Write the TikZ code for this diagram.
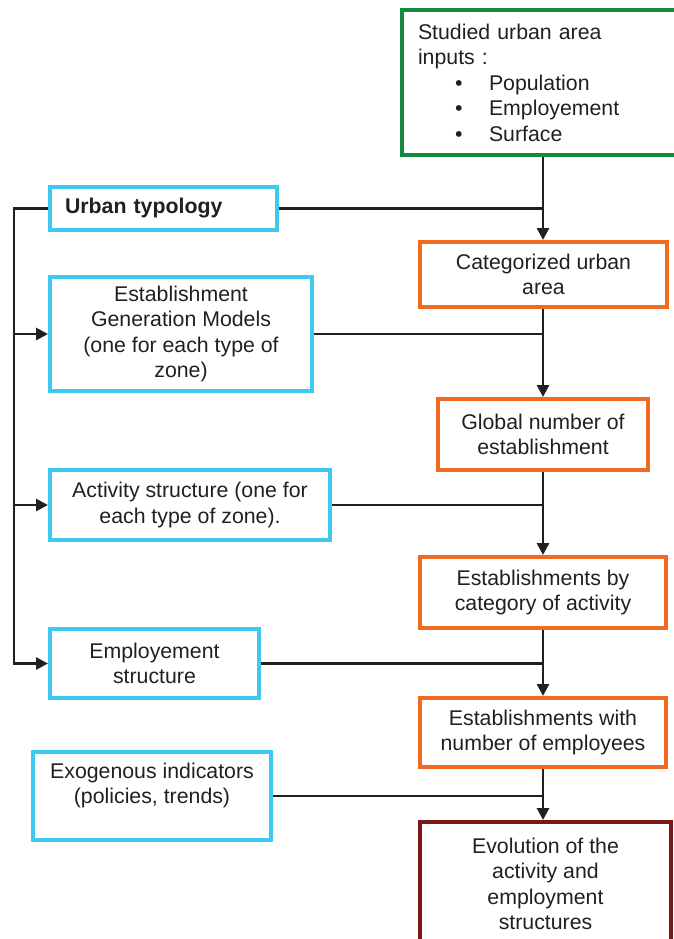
\documentclass[tikz,border=0pt]{standalone}
\usepackage{fontspec}
\setmainfont{Liberation Sans}
\usetikzlibrary{arrows.meta}
\definecolor{cgreen}{HTML}{138A3E}
\definecolor{ccyan}{HTML}{3EC9F2}
\definecolor{corange}{HTML}{F26A21}
\definecolor{cdred}{HTML}{7D1618}
\definecolor{cink}{HTML}{231F20}
\begin{document}
\begin{tikzpicture}[x=1pt,y=-1pt,
  font=\fontsize{21.3}{25.5}\selectfont, text=cink,
  box/.style={draw, line width=4pt, rectangle, inner sep=0pt, align=center},
  bbox/.style={box, draw=ccyan},
  obox/.style={box, draw=corange},
  arr/.style={draw=cink, line width=2.8pt, -{Triangle[length=12pt,width=12pt]}},
  ln/.style={draw=cink, line width=2.8pt}]
\useasboundingbox (0,0) rectangle (673,939);

% inputs
\node[box, draw=cgreen, minimum width=280pt, minimum height=145pt, text width=248pt, align=left] (inp) at (542,82.5)
  {Studied urban area\\inputs :\\
   \hspace*{37pt}\makebox[34pt][l]{•}Population\\
   \hspace*{37pt}\makebox[34pt][l]{•}Employement\\
   \hspace*{37pt}\makebox[34pt][l]{•}Surface};

% left column
\node[bbox, minimum width=227pt, minimum height=43pt, text width=197pt, align=left, font=\fontsize{21.3}{25.5}\selectfont\bfseries] (ut) at (163.5,208.5) {Urban typology};
\node[bbox, minimum width=262pt, minimum height=114pt] (egm) at (181,334)
  {Establishment\\Generation Models\\(one for each type of\\zone)};
\node[bbox, minimum width=280pt, minimum height=70pt] (act) at (190,505)
  {Activity structure (one for\\each type of zone).};
\node[bbox, minimum width=209pt, minimum height=69pt] (emp) at (154.5,663.5)
  {Employement\\structure};
\node[bbox, minimum width=238pt, minimum height=88pt] (exo) at (152,796)
  {Exogenous indicators\\(policies, trends)\\\mbox{}};

% right column
\node[obox, minimum width=247pt, minimum height=65pt] (cat) at (543.5,274.5)
  {Categorized urban\\area};
\node[obox, minimum width=210pt, minimum height=71pt] (glob) at (543,434.5)
  {Global number of\\establishment};
\node[obox, minimum width=246pt, minimum height=71pt] (ecat) at (543,592.5)
  {Establishments by\\category of activity};
\node[obox, minimum width=246pt, minimum height=69pt] (eemp) at (543,732.5)
  {Establishments with\\number of employees};
\node[box, draw=cdred, minimum width=251pt, minimum height=124pt] (evo) at (545.5,884)
  {Evolution of the\\activity and\\employment\\structures};

\coordinate (busx) at (14,0);
\coordinate (mainx) at (543,0);

% main vertical flow
\draw[arr] (inp.south -| mainx) -- (cat.north -| mainx);
\draw[arr] (cat.south -| mainx) -- (glob.north -| mainx);
\draw[arr] (glob.south -| mainx) -- (ecat.north -| mainx);
\draw[arr] (ecat.south -| mainx) -- (eemp.north -| mainx);
\draw[arr] (eemp.south -| mainx) -- (evo.north -| mainx);

% side inputs
\draw[ln] (ut.east) -- (ut.east -| mainx);
\draw[ln] (egm.east) -- (egm.east -| mainx);
\draw[ln] (act.east) -- (act.east -| mainx);
\draw[ln] (emp.east) -- (emp.east -| mainx);
\draw[ln] (exo.east) -- (exo.east -| mainx);

% left bus
\draw[arr] (ut.west) -- (ut.west -| busx) |- (emp.west);
\draw[arr] (egm.west -| busx) -- (egm.west);
\draw[arr] (act.west -| busx) -- (act.west);
\end{tikzpicture}
\end{document}
